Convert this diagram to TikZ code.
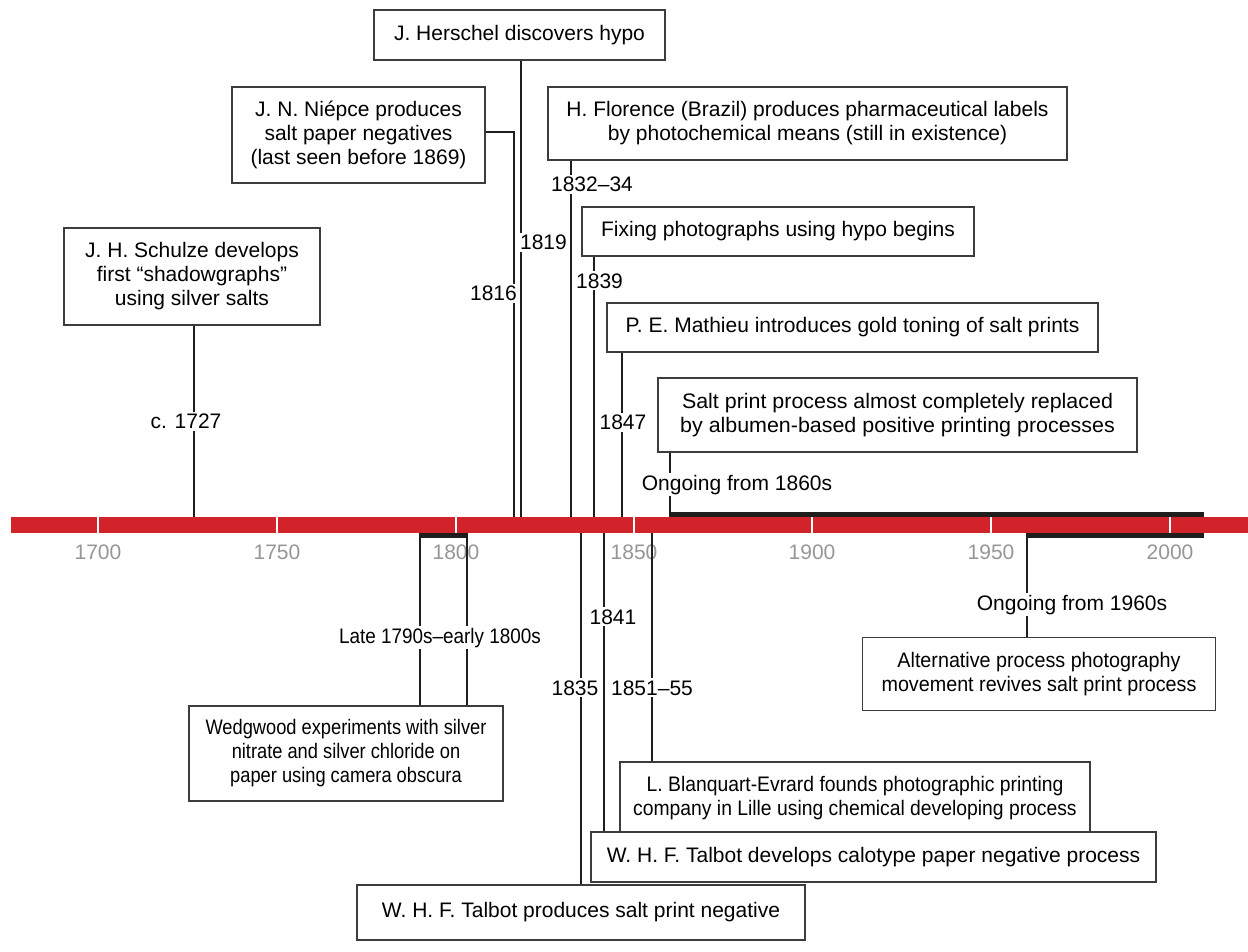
\documentclass[tikz,border=0pt]{standalone}
\usepackage{fontspec}
\usepackage{graphicx}
\setmainfont{Liberation Sans}
\definecolor{barred}{RGB}{211,35,42}
\definecolor{yeargray}{RGB}{150,150,150}
\definecolor{boxline}{RGB}{60,60,60}
\definecolor{linek}{RGB}{30,30,30}
\newcommand{\narrowtext}[2]{\scalebox{#1}[1]{#2}}
\begin{document}
\begin{tikzpicture}[x=1pt,y=-1pt,
  every node/.style={font=\fontsize{21}{24}\selectfont, inner sep=0pt},
  evbox/.style={draw=boxline, line width=1.4pt, fill=white, align=center},
  conn/.style={line width=2.8pt, draw=linek},
  ongoing/.style={line width=5pt, draw=linek},
  datelbl/.style={fill=white, inner sep=2pt, anchor=base},
  yearlbl/.style={text=yeargray}]
\useasboundingbox (0,0) rectangle (1248,952);

% timeline bar
\fill[barred] (11,516.7) rectangle (1248,533.3);
\foreach \x in {98,277,456,634,812,991,1170}
  \draw[white, line width=2pt] (\x,516.7) -- (\x,533.3);
\foreach \x/\y in {98/1700,277/1750,456/1800,634/1850,812/1900,991/1950,1170/2000}
  \node[yearlbl] (y\y) at (\x,552) {\y};

% coordinates on the bar
\coordinate (b1727) at (194,516.7);
\coordinate (b1816) at (514,516.7);
\coordinate (k1816) at (514,132);
\coordinate (b1819) at (521,516.7);
\coordinate (b1833) at (571,516.7);
\coordinate (b1839) at (594,516.7);
\coordinate (b1847) at (622,516.7);
\coordinate (b1860) at (670,514);
\coordinate (e1860) at (1204,514);
\coordinate (w1790) at (420,535.5);
\coordinate (w1803) at (467,535.5);
\coordinate (b1835) at (581,533.3);
\coordinate (b1841) at (604,533.3);
\coordinate (b1855) at (652,533.3);
\coordinate (b1960) at (1027,535.5);
\coordinate (e1960) at (1204,535.5);

% boxes
\node[evbox, minimum width=291pt, minimum height=50pt] (herschel) at (519.5,35) {J. Herschel discovers hypo};
\node[evbox, minimum width=253pt, minimum height=96pt] (niepce) at (358.5,135) {J. N. Niépce produces\\salt paper negatives\\(last seen before 1869)};
\node[evbox, minimum width=519pt, minimum height=73pt] (florence) at (807.5,123.5) {H. Florence (Brazil) produces pharmaceutical labels\\by photochemical means (still in existence)};
\node[evbox, minimum width=256pt, minimum height=97pt] (schulze) at (192,276.5) {J. H. Schulze develops\\first “shadowgraphs”\\using silver salts};
\node[evbox, minimum width=392pt, minimum height=49pt] (fixing) at (778,231.5) {Fixing photographs using hypo begins};
\node[evbox, minimum width=491pt, minimum height=49pt] (mathieu) at (852.5,327.5) {P. E. Mathieu introduces gold toning of salt prints};
\node[evbox, minimum width=479pt, minimum height=74pt] (replaced) at (897.5,415) {\narrowtext{1.02}{Salt print process almost completely replaced}\\\narrowtext{1.02}{by albumen-based positive printing processes}};
\node[evbox, minimum width=353pt, minimum height=73pt] (alt) at (1039,674) {\narrowtext{0.94}{Alternative process photography}\\\narrowtext{0.94}{movement revives salt print process}};
\node[evbox, minimum width=314pt, minimum height=95pt] (wedgwood) at (346,753.5) {\narrowtext{0.87}{Wedgwood experiments with silver}\\\narrowtext{0.87}{nitrate and silver chloride on}\\\narrowtext{0.87}{paper using camera obscura}};
\node[evbox, minimum width=470pt, minimum height=72pt] (blanquart) at (855,798) {\narrowtext{0.92}{L. Blanquart-Evrard founds photographic printing}\\\narrowtext{0.92}{company in Lille using chemical developing process}};
\node[evbox, minimum width=565pt, minimum height=50pt] (calotype) at (873.5,857) {W. H. F. Talbot develops calotype paper negative process};
\node[evbox, minimum width=448pt, minimum height=55pt] (talbot) at (581,912.5) {W. H. F. Talbot produces salt print negative};

% connectors above the bar
\draw[conn] (b1727 |- schulze.south) -- (b1727);
\draw[conn] (niepce.east |- k1816) -- (k1816) -- (b1816);
\draw[conn] (b1819 |- herschel.south) -- (b1819);
\draw[conn] (b1833 |- florence.south) -- (b1833);
\draw[conn] (b1839 |- fixing.south) -- (b1839);
\draw[conn] (b1847 |- mathieu.south) -- (b1847);
\draw[conn] (b1860 |- replaced.south) -- (b1860);
\draw[ongoing] ([xshift=-1.4pt]b1860) -- (e1860);

% connectors below the bar
\draw[conn] (b1835) -- (b1835 |- talbot.north);
\draw[conn] (b1841) -- (b1841 |- calotype.north);
\draw[conn] (b1855) -- (b1855 |- blanquart.north);
\draw[conn] (w1790 |- wedgwood.north) -- (w1790);
\draw[conn] (w1803 |- wedgwood.north) -- (w1803);
\draw[ongoing] ([xshift=-1.4pt]w1790) -- ([xshift=1.4pt]w1803);
\draw[conn] (b1960 |- alt.north) -- (b1960);
\draw[ongoing] ([xshift=-1.4pt]b1960) -- (e1960);

% date labels
\node[datelbl] (l1727) at (186,428.5) {c. 1727};
\node[datelbl] (l1816) at (493.5,300.5) {1816};
\node[datelbl] (l1819) at (543.5,250) {1819};
\node[datelbl] (l1833) at (592,192) {1832–34};
\node[datelbl] (l1839) at (599.5,288) {1839};
\node[datelbl] (l1847) at (623,429.5) {1847};
\node[datelbl] (l1860) at (737,490) {Ongoing from 1860s};
\node[datelbl] (l1790) at (440,643) {\narrowtext{0.9}{Late 1790s–early 1800s}};
\node[datelbl] (l1835) at (575,695) {1835};
\node[datelbl] (l1841) at (613,624) {1841};
\node[datelbl] (l1855) at (652,695) {1851–55};
\node[datelbl] (l1960) at (1072,610) {Ongoing from 1960s};
\end{tikzpicture}
\end{document}
